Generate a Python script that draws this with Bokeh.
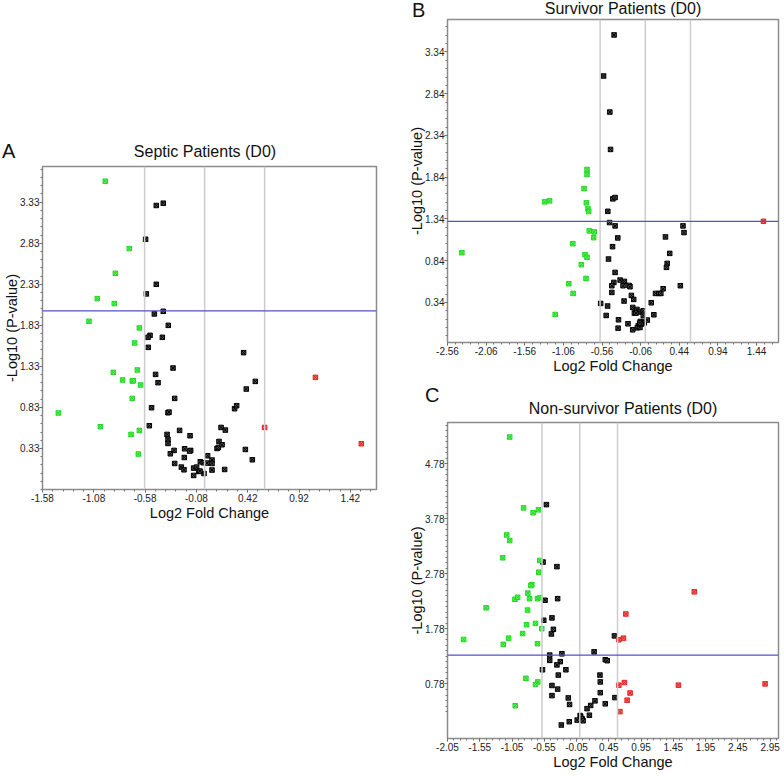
import numpy as np
from bokeh.plotting import figure
from bokeh.models import Span, FixedTicker, PrintfTickFormatter, Range1d, Spacer, Div
from bokeh.layouts import row, column
from bokeh.embed import file_html
from bokeh.resources import INLINE

FONT = "Liberation Sans"

# ---------------- Panel A: Septic Patients (D0) ----------------
a_xticks = [-1.58, -1.08, -0.58, -0.08, 0.42, 0.92, 1.42]
a_yticks = [0.33, 0.83, 1.33, 1.83, 2.33, 2.83, 3.33]
a_threshold = 2.006
a_green_x = [-0.968, -0.734, -0.870, -1.046, -0.880, -1.127, -0.636, -0.682, -0.890, -0.656,
             -0.799, -0.705, -0.695, -0.624, -0.705, -1.426, -1.016, -0.636, -0.717, -0.646]
a_green_y = [3.586, 2.765, 2.464, 2.156, 2.095, 1.879, 1.798, 1.615, 1.257, 1.286,
             1.164, 1.152, 1.156, 1.103, 0.940, 0.762, 0.595, 0.550, 0.501, 0.262]
a_black_x = [-0.471, -0.403, -0.575, -0.471, -0.568, -0.403, -0.490, -0.354, -0.532, -0.552,
             -0.412, -0.549, -0.308, -0.478, -0.454, -0.292, -0.517, -0.357, -0.347, -0.539,
             -0.244, -0.366, -0.142, -0.357, -0.357, -0.195, -0.298, -0.136, -0.146, -0.334,
             -0.198, -0.292, -0.227, -0.201, -0.107, -0.078, -0.058, -0.042, -0.013, -0.006,
             -0.107, -0.045, 0.029, 0.023, 0.072, 0.072, 0.072, 0.195, 0.121, 0.134,
             0.140, 0.170, 0.160, 0.202, 0.292, 0.312, 0.380, 0.494, 0.406, 0.397, 0.465]
a_black_y = [3.290, 3.318, 2.879, 2.330, 2.213, 2.001, 1.969, 1.830, 1.708, 1.684,
             1.684, 1.562, 1.310, 1.232, 1.131, 0.940, 0.826, 0.765, 0.773, 0.607,
             0.550, 0.501, 0.485, 0.440, 0.391, 0.326, 0.306, 0.306, 0.298, 0.265,
             0.220, 0.147, 0.103, 0.070, 0.091, 0.103, 0.050, 0.168, 0.156, 0.025,
             0.001, 0.054, 0.241, 0.152, 0.189, 0.147, 0.067, 0.074, 0.330, 0.342,
             0.415, 0.375, 0.586, 0.554, 0.814, 0.851, 1.497, 1.147, 1.054, 0.318, 0.192]
a_red_x = [1.080, 0.585, 1.527]
a_red_y = [1.196, 0.586, 0.387]

# ---------------- Panel B: Survivor Patients (D0) ----------------
b_xticks = [-2.56, -2.06, -1.56, -1.06, -0.56, -0.06, 0.44, 0.94, 1.44]
b_yticks = [0.34, 0.84, 1.34, 1.84, 2.34, 2.84, 3.34]
b_threshold = 1.311
b_green_x = [-2.374, -1.303, -1.239, -1.166, -0.990, -0.934, -0.938, -0.828, -0.780, -0.754,
             -0.767, -0.793, -0.754, -0.754, -0.763, -0.742, -0.733, -0.725, -0.661, -0.668]
b_green_y = [0.935, 1.544, 1.556, 0.195, 0.563, 0.447, 1.043, 0.791, 0.911, 0.879,
             0.627, 1.704, 1.932, 1.872, 1.532, 1.460, 1.428, 1.196, 1.184, 1.115]
b_black_x = [-0.404, -0.540, -0.459, -0.450, -0.420, -0.391, -0.485, -0.463, -0.391, -0.356,
             -0.424, -0.476, -0.391, -0.326, -0.270, -0.407, -0.433, -0.288, -0.211, -0.198,
             -0.433, -0.578, -0.488, -0.506, -0.347, -0.352, -0.275, -0.180, -0.150, -0.224,
             -0.163, -0.141, -0.108, -0.086, -0.121, -0.163, -0.090, -0.103, -0.064, -0.069,
             -0.026, -0.026, -0.026, -0.013, 0.026, -0.051, -0.073, 0.077, 0.111, 0.132,
             0.175, 0.201, 0.231, 0.261, 0.316, 0.283, 0.274, 0.454, 0.488, 0.501]
b_black_y = [3.544, 3.052, 2.620, 2.172, 1.580, 1.596, 1.431, 1.296, 1.256, 1.112,
             1.007, 0.859, 0.699, 0.607, 0.591, 0.579, 0.539, 0.539, 0.543, 0.527,
             0.459, 0.327, 0.296, 0.183, 0.131, 0.031, 0.356, 0.423, 0.375, 0.083,
             0.279, 0.212, 0.255, 0.224, 0.212, 0.011, 0.059, 0.035, 0.111, 0.039,
             0.239, 0.183, 0.111, 0.095, 0.128, 0.079, 0.091, 0.335, 0.191, 0.447,
             0.447, 0.447, 0.503, 1.124, 0.927, 0.807, 0.759, 0.539, 1.256, 1.176]
b_red_x = [1.529]
b_red_y = [1.311]

# ---------------- Panel C: Non-survivor Patients (D0) ----------------
c_xticks = [-2.05, -1.55, -1.05, -0.55, -0.05, 0.45, 0.95, 1.45, 1.95, 2.45, 2.95]
c_yticks = [0.78, 1.78, 2.78, 3.78, 4.78]
c_threshold = 1.305
c_green_x = [-1.086, -0.871, -0.723, -0.640, -1.132, -1.086, -1.194, -0.620, -0.635, -0.743,
             -0.758, -0.805, -1.005, -0.963, -0.778, -0.655, -0.615, -1.451, -0.809, -0.825,
             -0.686, -0.589, -0.886, -1.102, -1.800, -1.185, -0.655, -0.835, -0.651, -0.686, -1.000]
c_green_y = [5.266, 3.979, 3.890, 3.944, 3.487, 3.386, 3.072, 3.024, 2.811, 2.586,
             2.568, 2.431, 2.319, 2.355, 2.330, 2.330, 2.348, 2.164, 2.123, 1.856,
             1.880, 1.785, 1.696, 1.613, 1.589, 1.500, 1.512, 0.883, 0.818, 0.771, 0.385]
c_black_x = [-0.517, -0.569, -0.354, -0.538, -0.343, -0.558, -0.431, -0.409, -0.440, 0.538,
             0.222, -0.277, -0.466, -0.466, -0.302, -0.354, -0.215, -0.578, 0.395, 0.426,
             -0.333, 0.313, 0.318, -0.431, -0.343, 0.318, -0.431, -0.178, 0.545, -0.158,
             0.169, 0.236, 0.113, 0.395, 0.149, 0.006, 0.015, 0.037, 0.052, -0.040,
             -0.163, -0.286]
c_black_y = [4.038, 2.995, 2.912, 2.301, 2.330, 1.938, 1.981, 1.773, 1.689, 1.654,
             1.364, 1.328, 1.305, 1.209, 1.186, 1.127, 1.038, 1.038, 1.221, 1.203,
             0.942, 0.942, 0.818, 0.753, 0.687, 0.622, 0.569, 0.527, 0.533, 0.408,
             0.390, 0.474, 0.332, 0.420, 0.213, 0.207, 0.184, 0.148, 0.112, 0.124,
             0.095, 0.035]
c_red_x = [1.775, 0.714, 0.677, 0.606, 0.606, 0.692, 0.780, 0.734, 0.622, 1.529, 2.872]
c_red_y = [2.454, 2.052, 1.613, 1.583, 0.759, 0.806, 0.616, 0.486, 0.278, 0.759, 0.782]

FOLD_LINES = [-0.585, 0.0, 0.585]


def header(w, h, letter, lx, ly, title, tx, ty):
    """HTML strip above a panel holding the panel letter and the panel title."""
    html = (
        f'<div style="position:relative;width:{w}px;height:{h}px;'
        f'font-family:\'{FONT}\';color:#111111;">'
        f'<span style="position:absolute;left:{lx}px;top:{ly}px;font-size:20px;'
        f'line-height:1;white-space:nowrap;">{letter}</span>'
        f'<span style="position:absolute;left:{tx}px;top:{ty}px;font-size:16px;'
        f'line-height:1;white-space:nowrap;transform:translateX(-50%);">{title}</span>'
        f'</div>'
    )
    return Div(text=html, width=w, height=h, margin=0)


def panel(xr, yr, xticks, yticks, thr, gx, gy, kx, ky, rx, ry,
          w, h, bl, br, bt, bb):
    p = figure(width=w, height=h, x_range=Range1d(*xr), y_range=Range1d(*yr),
               output_backend="svg", toolbar_location=None,
               min_border_left=bl, min_border_right=br,
               min_border_top=bt, min_border_bottom=bb,
               background_fill_color="white", border_fill_color="white")
    p.grid.visible = False
    p.outline_line_color = "#8c8c8c"
    p.outline_line_width = 1.5

    xminor = list(np.round(np.arange(xr[0], xr[1], 0.1), 3))
    yminor = list(np.round(np.arange(yticks[0] - 0.5, yr[1], 0.1), 3))
    p.xaxis.ticker = FixedTicker(ticks=xticks, minor_ticks=xminor)
    p.yaxis.ticker = FixedTicker(ticks=yticks, minor_ticks=yminor)
    p.xaxis.formatter = PrintfTickFormatter(format="%.2f")
    p.yaxis.formatter = PrintfTickFormatter(format="%.2f")
    p.xaxis.axis_label = "Log2 Fold Change"
    p.yaxis.axis_label = "-Log10 (P-value)"
    for ax in (p.xaxis, p.yaxis):
        ax.axis_label_text_font = FONT
        ax.axis_label_text_font_size = "14.5px"
        ax.axis_label_text_font_style = "normal"
        ax.axis_label_text_color = "#111111"
        ax.axis_label_standoff = 0
        ax.major_label_text_font = FONT
        ax.major_label_text_font_size = "10px"
        ax.major_label_text_color = "#222222"
        ax.major_label_standoff = 1
        ax.axis_line_color = "#8c8c8c"
        ax.major_tick_line_color = "#555555"
        ax.minor_tick_line_color = "#777777"
        ax.major_tick_out = 3
        ax.major_tick_in = 0
        ax.minor_tick_out = 2
        ax.minor_tick_in = 0
    p.yaxis.major_label_standoff = 0
    p.yaxis.axis_label_standoff = -3

    for xv in FOLD_LINES:
        p.add_layout(Span(location=xv, dimension="height", line_color="#cdcdcd", line_width=1.5))
    p.add_layout(Span(location=thr, dimension="width", line_color="#5050d0", line_width=1.2))

    p.scatter(kx, ky, marker="square_x", size=4.5, line_color="#000000",
              fill_color="#555555", line_width=1)
    p.scatter(gx, gy, marker="square_x", size=4.5, line_color="#22d622",
              fill_color="#66f566", line_width=1)
    p.scatter(rx, ry, marker="square_x", size=4.5, line_color="#e42424",
              fill_color="#ff6a6a", line_width=1)
    return p


# ---- left column (panel A) ----
hA = header(390, 29, "A", 2, 6, "Septic Patients (D0)", 205, 9)
pA = panel((-1.58, 1.675), (-0.17, 3.765), a_xticks, a_yticks, a_threshold,
           a_green_x, a_green_y, a_black_x, a_black_y, a_red_x, a_red_y,
           w=390, h=366, bl=42, br=14, bt=2, bb=41)
left = column(Spacer(width=390, height=135, margin=0), hA, pA)

# ---- right column (panels B and C) ----
hB = header(392, 18, "B", 22, 0, "Survivor Patients (D0)", 233, 1)
pB = panel((-2.56, 1.724), (-0.141, 3.729), b_xticks, b_yticks, b_threshold,
           b_green_x, b_green_y, b_black_x, b_black_y, b_red_x, b_red_y,
           w=392, h=362, bl=57, br=4, bt=1, bb=38)
hC = header(392, 40, "C", 35, 5, "Non-survivor Patients (D0)", 233, 21)
pC = panel((-2.05, 3.08), (-0.21, 5.53), c_xticks, c_yticks, c_threshold,
           c_green_x, c_green_y, c_black_x, c_black_y, c_red_x, c_red_y,
           w=392, h=352, bl=57, br=4, bt=2, bb=32)
right = column(hB, pB, hC, pC)

layout = row(left, right)

with open("out.html", "w") as f:
    f.write(file_html(layout, INLINE))
